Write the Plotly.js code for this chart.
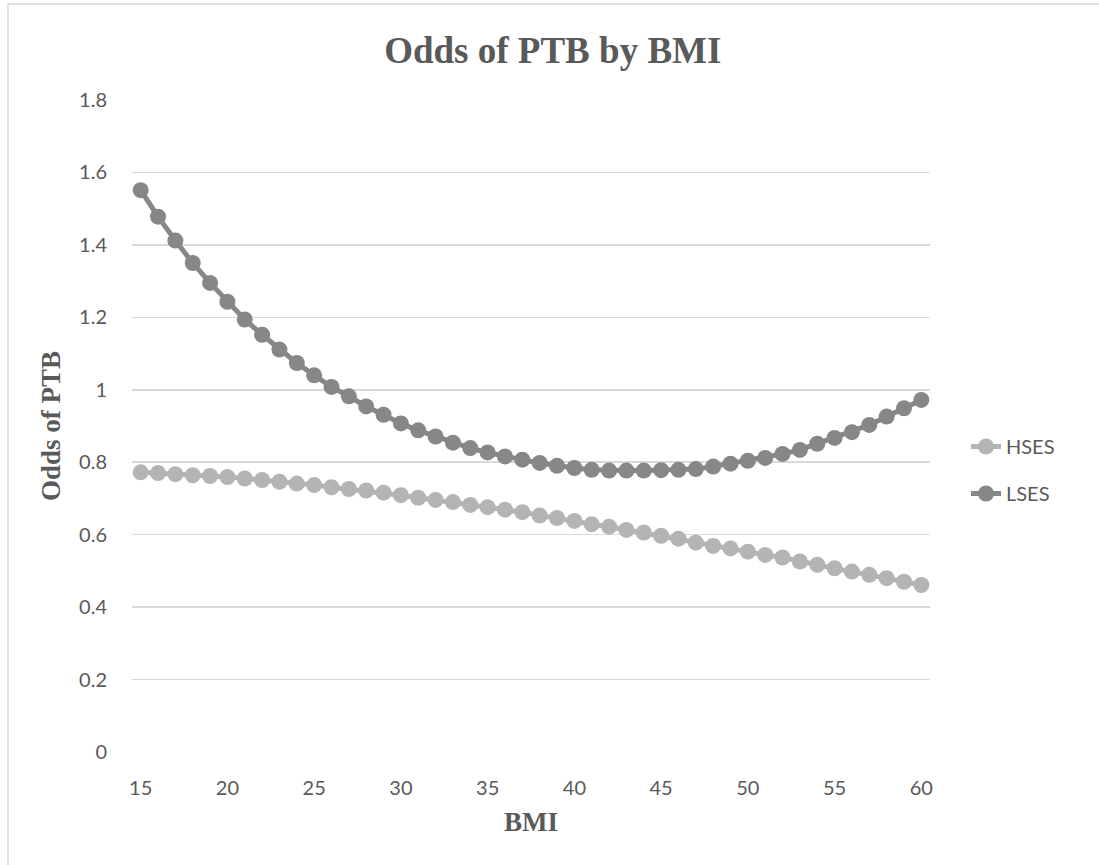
<!DOCTYPE html>
<html>
<head>
<meta charset="utf-8">
<script src="https://cdn.plot.ly/plotly-3.0.1.min.js"></script>
<style>
  html, body { margin: 0; padding: 0; background: #ffffff; }
  #chart { width: 1099px; height: 865px; }
</style>
</head>
<body>
<div id="chart"></div>
<script>
// BMI categories along the x axis
const bmi = [15, 16, 17, 18, 19, 20, 21, 22, 23, 24, 25, 26, 27, 28, 29, 30,
             31, 32, 33, 34, 35, 36, 37, 38, 39, 40, 41, 42, 43, 44, 45,
             46, 47, 48, 49, 50, 51, 52, 53, 54, 55, 56, 57, 58, 59, 60];

// Odds of preterm birth, high socioeconomic status
const hses = [0.772, 0.770, 0.767, 0.764, 0.762, 0.759, 0.755, 0.751, 0.746, 0.741,
              0.737, 0.731, 0.726, 0.722, 0.716, 0.709, 0.702, 0.696, 0.690, 0.682,
              0.676, 0.669, 0.662, 0.653, 0.646, 0.638, 0.629, 0.622, 0.613, 0.606,
              0.597, 0.589, 0.578, 0.569, 0.562, 0.553, 0.544, 0.537, 0.526, 0.517,
              0.507, 0.498, 0.489, 0.480, 0.470, 0.461];

// Odds of preterm birth, low socioeconomic status
const lses = [1.551, 1.478, 1.412, 1.350, 1.295, 1.243, 1.194, 1.152, 1.111, 1.074,
              1.040, 1.008, 0.982, 0.954, 0.931, 0.907, 0.888, 0.871, 0.854, 0.839,
              0.827, 0.816, 0.807, 0.798, 0.790, 0.784, 0.779, 0.777, 0.777, 0.777,
              0.778, 0.779, 0.781, 0.788, 0.796, 0.804, 0.812, 0.823, 0.834, 0.851,
              0.867, 0.883, 0.903, 0.926, 0.949, 0.972];

const xTicks = [15, 20, 25, 30, 35, 40, 45, 50, 55, 60];
const yTicks = [0, 0.2, 0.4, 0.6, 0.8, 1, 1.2, 1.4, 1.6, 1.8];
const yTickText = ['0', '0.2', '0.4', '0.6', '0.8', '1', '1.2', '1.4', '1.6', '1.8'];

const textGrey = '#595959';
const gridGrey = '#d9d9d9';
const tickFont = { family: 'Lato, "Open Sans", sans-serif', size: 20, color: textGrey };
const serifBold = { family: '"Liberation Serif", "Times New Roman", serif', size: 27, color: textGrey };

const traces = [
  {
    x: bmi, y: hses, name: 'HSES', type: 'scatter', mode: 'lines+markers',
    legendgroup: 'hses',
    line: { color: '#b4b4b4', width: 5 },
    marker: { color: '#b4b4b4', size: 16 }
  },
  {
    x: bmi, y: lses, name: 'LSES', type: 'scatter', mode: 'lines+markers',
    legendgroup: 'lses',
    line: { color: '#878787', width: 5 },
    marker: { color: '#878787', size: 16 }
  }
];

// chart frame (left and top edges)
const frameX = -124 / 798;
const frameTop = 748 / 652;
const shapes = [
  { type: 'line', xref: 'paper', yref: 'paper', x0: frameX, x1: frameX, y0: -0.2, y1: frameTop,
    line: { color: gridGrey, width: 1.5 } },
  { type: 'line', xref: 'paper', yref: 'paper', x0: frameX, x1: 1.25, y0: frameTop, y1: frameTop,
    line: { color: gridGrey, width: 1.5 } }
];

const layout = {
  width: 1099, height: 865,
  margin: { l: 132, r: 169, t: 100, b: 113 },
  paper_bgcolor: '#ffffff', plot_bgcolor: '#ffffff',
  title: {
    text: '<b>Odds of PTB by BMI</b>',
    font: { family: serifBold.family, size: 37, color: textGrey },
    xref: 'container', x: 0.503, yref: 'container', y: 1 - 50 / 865, yanchor: 'middle'
  },
  xaxis: {
    range: [14.5, 60.5], tickvals: xTicks, ticktext: xTicks.map(String),
    showgrid: false, zeroline: false, showline: false,
    ticks: 'outside', ticklen: 18, tickcolor: 'rgba(0,0,0,0)',
    tickfont: tickFont,
    title: { text: '<b>BMI</b>', font: serifBold, standoff: 14 }
  },
  yaxis: {
    range: [0, 1.8], tickvals: yTicks, ticktext: yTickText,
    showgrid: true, gridcolor: gridGrey, gridwidth: 1.5,
    zeroline: false, showline: false,
    ticks: 'outside', ticklen: 20, tickcolor: 'rgba(0,0,0,0)',
    tickfont: tickFont,
    title: { text: '<b>Odds of PTB</b>', font: serifBold, standoff: 10 }
  },
  legend: {
    x: 834 / 798, xanchor: 'left', y: 282 / 652, yanchor: 'middle',
    font: tickFont, tracegroupgap: 18, bgcolor: 'rgba(0,0,0,0)'
  },
  shapes: shapes,
  showlegend: true
};

Plotly.newPlot('chart', traces, layout, { displayModeBar: false, staticPlot: true });
</script>
</body>
</html>
